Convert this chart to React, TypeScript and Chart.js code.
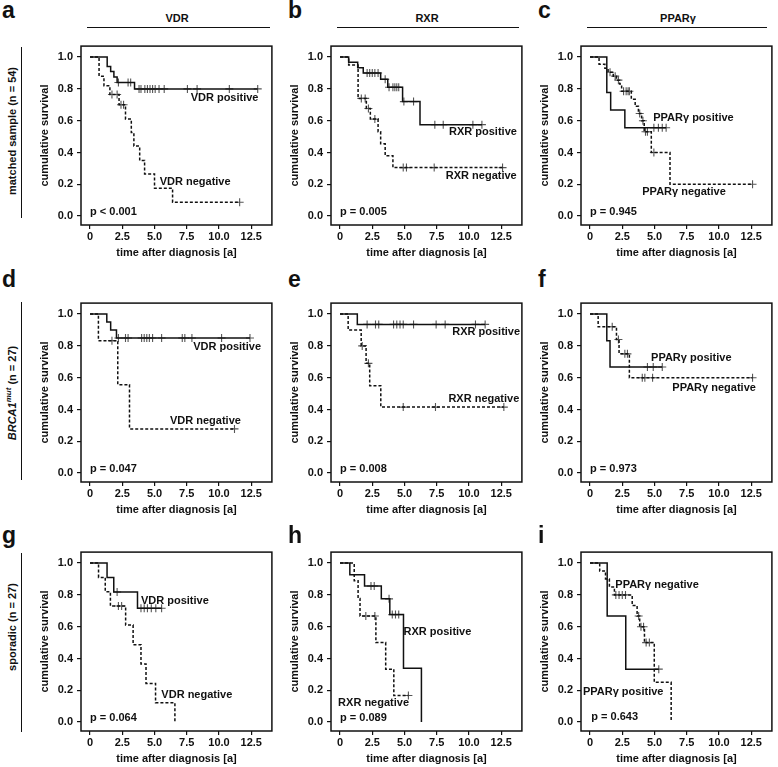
import React, { useEffect, useRef } from 'react';
import { Chart, registerables } from 'chart.js';

Chart.register(...registerables);

const FONT = '"Liberation Sans", Arial, Helvetica, sans-serif';
const INK = '#111';

// ---- axis ticks ----
const xTickValues = [0, 2.5, 5, 7.5, 10, 12.5];
const xTickLabels = ['0', '2.5', '5.0', '7.5', '10.0', '12.5'];
const yTickValues = [0, 0.2, 0.4, 0.6, 0.8, 1.0];
const yTickLabels = ['0.0', '0.2', '0.4', '0.6', '0.8', '1.0'];

// ---- categories ----
const markers = ['VDR', 'RXR', 'PPARγ'];
const panelLetters = ['a', 'b', 'c', 'd', 'e', 'f', 'g', 'h', 'i'];
const pValues = ['p < 0.001', 'p = 0.005', 'p = 0.945', 'p = 0.047', 'p = 0.008', 'p = 0.973', 'p = 0.064', 'p = 0.089', 'p = 0.643'];

// ---- survival curves: [time, survival after event] and censor times ----
// a: matched, VDR
const aPosEvents = [[1.33, 0.94], [1.6, 0.91], [1.85, 0.875], [2.1, 0.84], [3.45, 0.8]];
const aPosCensor = [2.2, 2.95, 3.15, 3.8, 3.95, 4.25, 4.45, 4.65, 4.85, 5.05, 5.35, 5.75, 7.55, 8.3, 10.8, 13.0];
const aNegEvents = [[0.7, 0.88], [1.08, 0.82], [1.54, 0.765], [2.25, 0.7], [2.75, 0.61], [3.2, 0.525], [3.4, 0.44], [3.85, 0.35], [4.23, 0.265], [5.0, 0.175], [6.4, 0.087]];
const aNegCensor = [1.7, 2.1, 2.4, 2.6, 11.6];
// b: matched, RXR
const bPosEvents = [[0.67, 0.967], [1.37, 0.933], [1.8, 0.9], [3.15, 0.86], [3.7, 0.81], [4.85, 0.72], [6.2, 0.575]];
const bPosCensor = [2.1, 2.3, 2.5, 2.7, 2.95, 3.5, 3.8, 4.1, 4.25, 4.4, 4.55, 4.95, 5.7, 7.35, 8.0, 10.3, 11.0];
const bNegEvents = [[0.67, 0.95], [1.4, 0.74], [2.04, 0.677], [2.35, 0.61], [2.95, 0.53], [3.15, 0.455], [3.5, 0.38], [4.1, 0.305]];
const bNegCensor = [1.65, 1.95, 2.2, 2.7, 4.9, 5.15, 7.3, 12.6];
// c: matched, PPARγ
const cPosEvents = [[1.3, 0.778], [1.6, 0.667], [2.7, 0.556]];
const cPosCensor = [4.95, 5.3, 5.6, 5.9];
const cNegEvents = [[0.7, 0.955], [1.15, 0.93], [1.4, 0.905], [1.8, 0.88], [2.05, 0.855], [2.3, 0.83], [2.45, 0.785], [3.2, 0.735], [3.5, 0.69], [3.75, 0.645], [4.0, 0.6], [4.2, 0.53], [4.75, 0.4], [6.2, 0.2]];
const cNegCensor = [1.55, 1.95, 2.2, 2.6, 2.8, 2.95, 3.05, 3.85, 4.1, 4.3, 4.45, 4.95, 12.6];
// d: BRCA1mut, VDR
const dPosEvents = [[1.3, 0.95], [1.6, 0.9], [2.05, 0.85]];
const dPosCensor = [2.2, 2.75, 2.95, 4.0, 4.2, 4.4, 4.6, 4.85, 5.55, 7.15, 7.35, 7.9, 10.2, 12.4];
const dNegEvents = [[0.65, 0.833], [2.15, 0.556], [3.06, 0.278]];
const dNegCensor = [1.7, 11.2];
// e: BRCA1mut, RXR
const ePosEvents = [[1.34, 0.935]];
const ePosCensor = [2.1, 2.75, 3.0, 4.15, 4.4, 4.65, 4.9, 5.7, 7.45, 8.15, 10.5, 11.25];
const eNegEvents = [[0.63, 0.9], [1.64, 0.8], [2.02, 0.69], [2.3, 0.55], [3.16, 0.415]];
const eNegCensor = [1.72, 2.2, 4.9, 7.4, 12.7];
// f: BRCA1mut, PPARγ
const fPosEvents = [[1.3, 0.833], [1.55, 0.667]];
const fPosCensor = [4.45, 4.9, 5.6];
const fNegEvents = [[0.63, 0.92], [2.05, 0.84], [2.25, 0.75], [3.05, 0.6]];
const fNegCensor = [1.72, 2.2, 2.7, 2.9, 4.05, 4.25, 4.85, 12.6];
// g: sporadic, VDR
const gPosEvents = [[1.32, 0.909], [1.84, 0.818], [3.68, 0.716]];
const gPosCensor = [2.1, 3.95, 4.2, 4.45, 4.75, 5.1, 5.55];
const gNegEvents = [[0.66, 0.91], [1.18, 0.82], [1.58, 0.73], [2.76, 0.61], [3.34, 0.487], [3.95, 0.365], [4.34, 0.243], [5.08, 0.122], [6.58, 0.0]];
const gNegCensor = [2.2, 2.45];
// h: sporadic, RXR
const hPosEvents = [[0.76, 0.927], [1.9, 0.856], [3.2, 0.775], [3.86, 0.676], [4.92, 0.338], [6.31, 0.0]];
const hPosCensor = [2.4, 2.65, 3.8, 4.05, 4.3, 4.55];
const hNegEvents = [[1.1, 0.889], [1.4, 0.778], [1.55, 0.667], [2.78, 0.5], [3.54, 0.333], [4.17, 0.167]];
const hNegCensor = [2.0, 2.7, 5.3];
// i: sporadic, PPARγ
const iPosEvents = [[1.33, 0.667], [2.77, 0.333]];
const iPosCensor = [5.33];
const iNegEvents = [[0.75, 0.95], [1.2, 0.9], [1.5, 0.85], [1.89, 0.8], [3.27, 0.733], [3.65, 0.667], [3.85, 0.6], [4.22, 0.5], [4.98, 0.25], [6.29, 0.0]];
const iNegCensor = [2.0, 2.25, 2.5, 2.75, 3.77, 3.95, 4.15, 4.35, 4.6];

// ---- layout ----
const BOX_LEFTS = [81, 331, 581];
const BOX_TOPS = [45, 302, 551];
const BOX_W = 192;
const BOX_H = 180;
const AXIS_W = 48;
const AXIS_H = 36;
const PAD_T = 4;
const PAD_R = 4;
const CW = AXIS_W + BOX_W + PAD_R;
const CH = PAD_T + BOX_H + AXIS_H;

type Label = { text: string; x: number; y: number };
type PanelDef = {
  row: number;
  col: number;
  pos: number[][];
  posC: number[];
  neg: number[][];
  negC: number[];
  labels: Label[];
};

const pos = (m: number) => `${markers[m]} positive`;
const neg = (m: number) => `${markers[m]} negative`;

const panels: PanelDef[] = [
  { row: 0, col: 0, pos: aPosEvents, posC: aPosCensor, neg: aNegEvents, negC: aNegCensor,
    labels: [{ text: pos(0), x: 7.8, y: 0.745 }, { text: neg(0), x: 5.4, y: 0.215 }, { text: pValues[0], x: 0, y: 0.025 }] },
  { row: 0, col: 1, pos: bPosEvents, posC: bPosCensor, neg: bNegEvents, negC: bNegCensor,
    labels: [{ text: pos(1), x: 8.45, y: 0.53 }, { text: neg(1), x: 8.2, y: 0.25 }, { text: pValues[1], x: 0, y: 0.025 }] },
  { row: 0, col: 2, pos: cPosEvents, posC: cPosCensor, neg: cNegEvents, negC: cNegCensor,
    labels: [{ text: pos(2), x: 4.9, y: 0.62 }, { text: neg(2), x: 4.05, y: 0.152 }, { text: pValues[2], x: 0, y: 0.025 }] },
  { row: 1, col: 0, pos: dPosEvents, posC: dPosCensor, neg: dNegEvents, negC: dNegCensor,
    labels: [{ text: pos(0), x: 8.0, y: 0.795 }, { text: neg(0), x: 6.2, y: 0.33 }, { text: pValues[3], x: 0, y: 0.025 }] },
  { row: 1, col: 1, pos: ePosEvents, posC: ePosCensor, neg: eNegEvents, negC: eNegCensor,
    labels: [{ text: pos(1), x: 8.7, y: 0.885 }, { text: neg(1), x: 8.4, y: 0.463 }, { text: pValues[4], x: 0, y: 0.025 }] },
  { row: 1, col: 2, pos: fPosEvents, posC: fPosCensor, neg: fNegEvents, negC: fNegCensor,
    labels: [{ text: pos(2), x: 4.73, y: 0.723 }, { text: neg(2), x: 6.38, y: 0.535 }, { text: pValues[5], x: 0, y: 0.025 }] },
  { row: 2, col: 0, pos: gPosEvents, posC: gPosCensor, neg: gNegEvents, negC: gNegCensor,
    labels: [{ text: pos(0), x: 3.95, y: 0.762 }, { text: neg(0), x: 5.53, y: 0.168 }, { text: pValues[6], x: 0, y: 0.025 }] },
  { row: 2, col: 1, pos: hPosEvents, posC: hPosCensor, neg: hNegEvents, negC: hNegCensor,
    labels: [{ text: pos(1), x: 4.92, y: 0.566 }, { text: neg(1), x: -0.15, y: 0.123 }, { text: pValues[7], x: 0, y: 0.025 }] },
  { row: 2, col: 2, pos: iPosEvents, posC: iPosCensor, neg: iNegEvents, negC: iNegCensor,
    labels: [{ text: neg(2), x: 1.96, y: 0.863 }, { text: pos(2), x: -0.55, y: 0.19 }, { text: pValues[8], x: 0.1, y: 0.03 }] },
];

function curvePoints(events: number[][], censor: number[]) {
  const pts = [{ x: 0, y: 1 }];
  for (const [t, s] of events) pts.push({ x: t, y: s });
  const last = events[events.length - 1];
  const endT = Math.max(last[0], ...censor);
  if (endT > last[0]) pts.push({ x: endT, y: last[1] });
  return pts;
}

function survivalAt(events: number[][], t: number) {
  let s = 1;
  for (const [et, es] of events) if (et <= t) s = es;
  return s;
}

function censorPoints(events: number[][], censor: number[]) {
  return censor.map((t) => ({ x: t, y: survivalAt(events, t) }));
}

const tickFont = { family: FONT, size: 11, weight: 'bold' as const };

function KMPanel({ p }: { p: PanelDef }) {
  const ref = useRef<HTMLCanvasElement>(null);
  useEffect(() => {
    const labels = p.labels;
    const frame = {
      id: 'frameAndLabels',
      afterDraw(chart: any) {
        const { ctx, chartArea, scales } = chart;
        ctx.save();
        ctx.setLineDash([]);
        ctx.strokeStyle = INK;
        ctx.lineWidth = 1.5;
        ctx.strokeRect(chartArea.left, chartArea.top, chartArea.right - chartArea.left, chartArea.bottom - chartArea.top);
        ctx.font = `bold 11px ${FONT}`;
        ctx.fillStyle = INK;
        ctx.textBaseline = 'middle';
        ctx.textAlign = 'left';
        for (const l of labels) {
          ctx.fillText(l.text, scales.x.getPixelForValue(l.x), scales.y.getPixelForValue(l.y));
        }
        ctx.restore();
      },
    };
    const chart = new Chart(ref.current as HTMLCanvasElement, {
      type: 'line',
      data: {
        datasets: [
          { data: curvePoints(p.pos, p.posC), stepped: 'before', borderColor: INK, borderWidth: 1.5, pointRadius: 0, fill: false },
          { data: curvePoints(p.neg, p.negC), stepped: 'before', borderColor: INK, borderWidth: 1.5, borderDash: [3, 2], pointRadius: 0, fill: false },
          { data: censorPoints(p.pos, p.posC), showLine: false, pointStyle: 'cross', pointRadius: 4, borderColor: '#555', borderWidth: 1.1 },
          { data: censorPoints(p.neg, p.negC), showLine: false, pointStyle: 'cross', pointRadius: 4, borderColor: '#555', borderWidth: 1.1 },
        ] as any,
      },
      options: {
        animation: false,
        responsive: false,
        devicePixelRatio: 1,
        layout: { padding: { left: 0, top: PAD_T, right: PAD_R, bottom: 0 } },
        plugins: { legend: { display: false }, tooltip: { enabled: false } },
        scales: {
          x: {
            type: 'linear',
            min: -0.7,
            max: 14.1,
            afterBuildTicks: (s: any) => { s.ticks = xTickValues.map((v) => ({ value: v })); },
            afterFit: (s: any) => { s.height = AXIS_H; s.paddingLeft = 0; s.paddingRight = 0; },
            ticks: {
              autoSkip: false, maxRotation: 0, padding: 1, color: INK, font: tickFont,
              callback: (v: any) => xTickLabels[xTickValues.indexOf(Number(v))],
            },
            grid: { drawOnChartArea: false, color: INK, tickLength: 4, lineWidth: 1.2 },
            border: { display: false },
            title: { display: true, text: 'time after diagnosis [a]', color: INK, font: tickFont, padding: { top: 0, bottom: 1.5 } },
          },
          y: {
            type: 'linear',
            min: -0.056,
            max: 1.069,
            afterBuildTicks: (s: any) => { s.ticks = yTickValues.map((v) => ({ value: v })); },
            afterFit: (s: any) => { s.width = AXIS_W; s.paddingTop = 0; s.paddingBottom = 0; },
            ticks: {
              autoSkip: false, padding: 4, color: INK, font: tickFont,
              callback: (v: any) => yTickLabels[yTickValues.indexOf(Number(v))],
            },
            grid: { drawOnChartArea: false, color: INK, tickLength: 4, lineWidth: 1.2 },
            border: { display: false },
            title: { display: true, text: 'cumulative survival', color: INK, font: tickFont, padding: { top: 5, bottom: 0 } },
          },
        },
      } as any,
      plugins: [frame],
    });
    return () => chart.destroy();
  }, [p]);
  return (
    <canvas
      ref={ref}
      width={CW}
      height={CH}
      style={{ position: 'absolute', left: BOX_LEFTS[p.col] - AXIS_W, top: BOX_TOPS[p.row] - PAD_T, width: CW, height: CH }}
    />
  );
}

const letterLefts = [2, 288, 538];
const letterTops = [-1, 267.5, 523.5];
const headerCenters = [177, 427, 678];
const headerLines = [[87, 270], [337, 519], [587, 767]];
const rowLines = [[47, 218], [302, 480], [553, 732]];
const rowLabelCenters = [131, 393, 627];

const textStyle: React.CSSProperties = { position: 'absolute', fontFamily: FONT, fontWeight: 'bold', color: INK, whiteSpace: 'nowrap' };

export default function App() {
  return (
    <div style={{ position: 'absolute', left: 0, top: 0, width: 778, height: 767, background: '#fff', overflow: 'hidden' }}>
      {panels.map((p, i) => (
        <KMPanel key={i} p={p} />
      ))}
      {panels.map((p, i) => (
        <div key={'L' + i} style={{ ...textStyle, left: letterLefts[p.col], top: letterTops[p.row], fontSize: 23, lineHeight: '23px' }}>
          {panelLetters[i]}
        </div>
      ))}
      {markers.map((m, i) => (
        <React.Fragment key={'H' + i}>
          <div style={{ ...textStyle, left: headerCenters[i] - 60, width: 120, textAlign: 'center', top: 11.5, fontSize: 11, lineHeight: '13px' }}>{m}</div>
          <div style={{ position: 'absolute', left: headerLines[i][0], width: headerLines[i][1] - headerLines[i][0], top: 26.5, height: 1.5, background: INK }} />
        </React.Fragment>
      ))}
      {rowLines.map((r, i) => (
        <div key={'R' + i} style={{ position: 'absolute', left: 20.5, width: 1.8, top: r[0], height: r[1] - r[0], background: INK }} />
      ))}
      {rowLabelCenters.map((c, i) => (
        <div
          key={'RL' + i}
          style={{ ...textStyle, left: 12 - 100, width: 200, textAlign: 'center', top: c - 7, height: 14, fontSize: 11, lineHeight: '14px', transform: 'rotate(-90deg)', transformOrigin: '50% 50%' }}
        >
          {i === 0 && 'matched sample (n = 54)'}
          {i === 1 && (
            <>
              <i>BRCA1</i>
              <sup style={{ fontSize: 8, fontStyle: 'italic', verticalAlign: 'super', lineHeight: 0 }}>mut</sup>
              {' (n = 27)'}
            </>
          )}
          {i === 2 && 'sporadic (n = 27)'}
        </div>
      ))}
    </div>
  );
}
